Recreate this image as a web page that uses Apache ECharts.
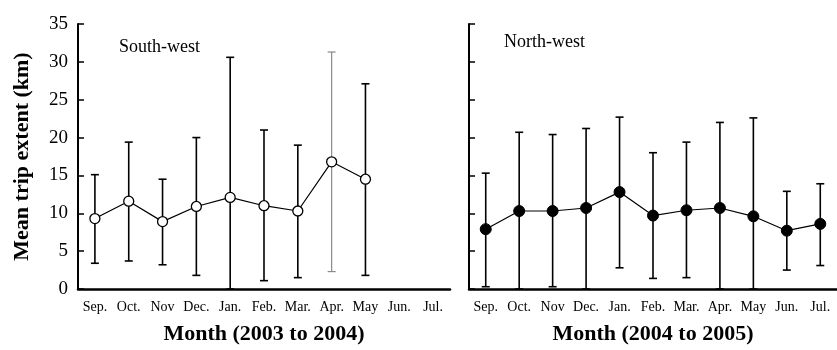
<!DOCTYPE html>
<html>
<head>
<meta charset="utf-8">
<script src="https://cdn.jsdelivr.net/npm/echarts@6/dist/echarts.min.js"></script>
<style>
  html, body { margin: 0; padding: 0; background: #fff; }
  #chart { width: 837px; height: 350px; }
</style>
</head>
<body>
<div id="chart"></div>
<script>
// Month categories shared by both seasons
const months = ['Sep.', 'Oct.', 'Nov', 'Dec.', 'Jan.', 'Feb.', 'Mar.', 'Apr.', 'May', 'Jun.', 'Jul.'];
const yTicks = [0, 35, 5]; // min, max, step

// South-west, 2003 to 2004: mean trip extent (km) with error-bar bounds
const swMean  = [9.3, 11.6, 8.9, 10.9, 12.1, 11.0, 10.3, 16.8, 14.5, null, null];
const swLower = [3.4, 3.7, 3.2, 1.8, 0, 1.1, 1.5, 2.3, 1.8, null, null];
const swUpper = [15.1, 19.4, 14.5, 20.0, 30.6, 21.0, 19.0, 31.3, 27.1, null, null];

// North-west, 2004 to 2005
const nwMean  = [7.9, 10.3, 10.3, 10.7, 12.8, 9.7, 10.4, 10.7, 9.6, 7.7, 8.6];
const nwLower = [0.3, 0, 0.3, 0, 2.8, 1.4, 1.5, 0, 0, 2.5, 3.1];
const nwUpper = [15.3, 20.7, 20.4, 21.2, 22.7, 18.0, 19.4, 22.0, 22.6, 12.9, 13.9];

const FONT = 'Liberation Serif';

function errorData(lower, upper) {
  const out = [];
  lower.forEach((lo, i) => {
    if (lo !== null && upper[i] !== null) out.push([i, lo, upper[i]]);
  });
  return out;
}

// Draws vertical whiskers with short caps; one whisker may be drawn in grey
function makeErrorRenderer(greyIndex) {
  return function (params, api) {
    const x = api.value(0);
    const pLo = api.coord([x, api.value(1)]);
    const pHi = api.coord([x, api.value(2)]);
    const half = 4;
    const grey = x === greyIndex;
    const style = { stroke: grey ? '#8a8a8a' : '#000', lineWidth: grey ? 1.2 : 1.6 };
    return {
      type: 'group',
      children: [
        { type: 'line', shape: { x1: pLo[0], y1: pLo[1], x2: pHi[0], y2: pHi[1] }, style: style },
        { type: 'line', shape: { x1: pHi[0] - half, y1: pHi[1], x2: pHi[0] + half, y2: pHi[1] }, style: style },
        { type: 'line', shape: { x1: pLo[0] - half, y1: pLo[1], x2: pLo[0] + half, y2: pLo[1] }, style: style }
      ]
    };
  };
}

function xAxis(gridIndex, name) {
  return {
    type: 'category', gridIndex: gridIndex, data: months, boundaryGap: true,
    axisLine: { lineStyle: { color: '#000', width: 2.5 } },
    axisTick: { inside: true, length: 6, alignWithLabel: true, lineStyle: { color: '#000', width: 1.5 } },
    axisLabel: { interval: 0, color: '#000', fontFamily: FONT, fontSize: 14, margin: 11 },
    splitLine: { show: false },
    name: name, nameLocation: 'middle', nameGap: 34,
    nameTextStyle: { color: '#000', fontFamily: FONT, fontSize: 22, fontWeight: 'bold' }
  };
}

function yAxis(gridIndex, showLabels) {
  return {
    type: 'value', gridIndex: gridIndex, min: yTicks[0], max: yTicks[1], interval: yTicks[2],
    axisLine: { show: true, lineStyle: { color: '#000', width: 2 } },
    axisTick: { show: true, inside: true, length: 6, lineStyle: { color: '#000', width: 1.5 } },
    axisLabel: { show: showLabels, color: '#000', fontFamily: FONT, fontSize: 19, margin: 10 },
    splitLine: { show: false },
    name: showLabels ? 'Mean trip extent (km)' : '',
    nameLocation: 'middle', nameRotate: 90, nameGap: 45,
    nameTextStyle: { color: '#000', fontFamily: FONT, fontSize: 22, fontWeight: 'bold' }
  };
}

const chart = echarts.init(document.getElementById('chart'), null, { renderer: 'canvas' });

chart.setOption({
  animation: false,
  backgroundColor: '#fff',
  grid: [
    { left: 78, top: 24, width: 372, height: 267 },
    { left: 469, top: 24, width: 372, height: 267 }
  ],
  xAxis: [xAxis(0, 'Month (2003 to 2004)'), xAxis(1, 'Month (2004 to 2005)')],
  yAxis: [yAxis(0, true), yAxis(1, false)],
  graphic: [
    { type: 'text', left: 119, top: 38, style: { text: 'South-west', font: '18px "Liberation Serif"', fill: '#000' } },
    { type: 'text', left: 504, top: 33, style: { text: 'North-west', font: '18px "Liberation Serif"', fill: '#000' } }
  ],
  series: [
    {
      type: 'custom', xAxisIndex: 0, yAxisIndex: 0, z: 1,
      renderItem: makeErrorRenderer(7),
      data: errorData(swLower, swUpper)
    },
    {
      type: 'line', xAxisIndex: 0, yAxisIndex: 0, z: 3,
      data: swMean.map(v => (v === null ? '-' : v)),
      symbol: 'circle', symbolSize: 10,
      itemStyle: { color: '#fff', borderColor: '#000', borderWidth: 1.3 },
      lineStyle: { color: '#000', width: 1.2 }
    },
    {
      type: 'custom', xAxisIndex: 1, yAxisIndex: 1, z: 1,
      renderItem: makeErrorRenderer(-1),
      data: errorData(nwLower, nwUpper)
    },
    {
      type: 'line', xAxisIndex: 1, yAxisIndex: 1, z: 3,
      data: nwMean,
      symbol: 'circle', symbolSize: 11,
      itemStyle: { color: '#000', borderColor: '#000', borderWidth: 1 },
      lineStyle: { color: '#000', width: 1.2 }
    }
  ]
});
</script>
</body>
</html>
